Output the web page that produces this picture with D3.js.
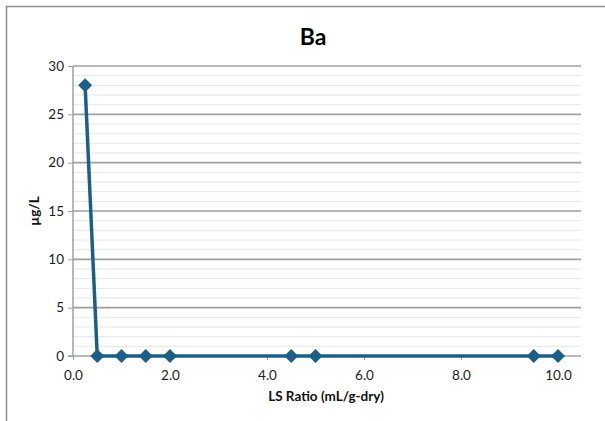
<!DOCTYPE html>
<html><head><meta charset="utf-8">
<script src="https://cdn.jsdelivr.net/npm/d3@7"></script>
<style>body{margin:0;background:#fff}svg{display:block}text{font-family:Lato,"Open Sans",sans-serif}</style>
</head><body><svg id="c" width="605" height="421"></svg>
<script>
const title = "Ba";
const xLabel = "LS Ratio (mL/g-dry)";
const yLabel = "µg/L";
const lsRatio = [0.25, 0.5, 1.0, 1.5, 2.0, 4.5, 5.0, 9.5, 10.0];
const baValues = [28, 0, 0, 0, 0, 0, 0, 0, 0];
const xTicks = [0, 2, 4, 6, 8, 10];
const yTicks = [0, 5, 10, 15, 20, 25, 30];
const yMinor = d3.range(0, 31, 1);

const svg = d3.select("#c");
svg.append("rect").attr("x",6.5).attr("y",6.5).attr("width",620).attr("height",430)
  .attr("fill","#fff").attr("stroke","#8c8c8c").attr("stroke-width",1.5);

const L=73, R=581, T=66, B=356;
const x = d3.scaleLinear().domain([0,10.474]).range([L,R]);
const y = d3.scaleLinear().domain([0,30]).range([B,T]);

// minor gridlines
svg.append("g").selectAll("line").data(yMinor.filter(v=>v%5!==0)).join("line")
  .attr("x1",L).attr("x2",R).attr("y1",d=>y(d)).attr("y2",d=>y(d))
  .attr("stroke","#e4e6ee").attr("stroke-width",1);
// major gridlines
svg.append("g").selectAll("line").data(yTicks.filter(v=>v>0)).join("line")
  .attr("x1",L).attr("x2",R).attr("y1",d=>y(d)).attr("y2",d=>y(d))
  .attr("stroke","#a0a0a0").attr("stroke-width",1.6);

// y axis
const ya = svg.append("g").attr("transform",`translate(${L},0)`)
  .call(d3.axisLeft(y).tickValues(yTicks).tickSize(5).tickPadding(4).tickFormat(d3.format("d")));
ya.select(".domain").attr("stroke","#a0a0a0").attr("stroke-width",1.5).attr("d",`M0,${T}V${B}`);
ya.selectAll(".tick line").attr("stroke","#a0a0a0");
ya.selectAll("text").attr("font-size",13.5).attr("fill","#222").attr("font-family","Lato,sans-serif");

// x axis
const xa = svg.append("g").attr("transform",`translate(0,${B})`)
  .call(d3.axisBottom(x).tickValues(xTicks).tickSize(4).tickPadding(10).tickFormat(d3.format(".1f")));
xa.select(".domain").attr("stroke","#a0a0a0").attr("stroke-width",1.5).attr("d",`M${L-5},0H${R}`);
xa.selectAll(".tick line").attr("stroke","#a0a0a0");
xa.selectAll("text").attr("font-size",13.5).attr("fill","#222").attr("font-family","Lato,sans-serif");

// line
const pts = lsRatio.map((v,i)=>[v,baValues[i]]);
svg.append("path").datum(pts)
  .attr("d", d3.line().x(d=>x(d[0])).y(d=>y(d[1])))
  .attr("fill","none").attr("stroke","#1b5f86").attr("stroke-width",3.5).attr("stroke-linejoin","round");
svg.append("g").selectAll("path").data(pts).join("path")
  .attr("transform",d=>`translate(${x(d[0])},${y(d[1])})`)
  .attr("d","M0,-7L7,0L0,7L-7,0Z").attr("fill","#1b5f86");

// titles
svg.append("text").attr("x",313).attr("y",45).attr("text-anchor","middle")
  .attr("font-size",23).attr("font-weight","bold").attr("fill","#000").text(title);
svg.append("text").attr("x",326).attr("y",401).attr("text-anchor","middle")
  .attr("font-size",13.5).attr("font-weight","bold").attr("fill","#111").text(xLabel);
svg.append("text").attr("transform","translate(39,211) rotate(-90)").attr("text-anchor","middle")
  .attr("font-size",13.5).attr("font-weight","bold").attr("fill","#111").text(yLabel);
</script></body></html>
